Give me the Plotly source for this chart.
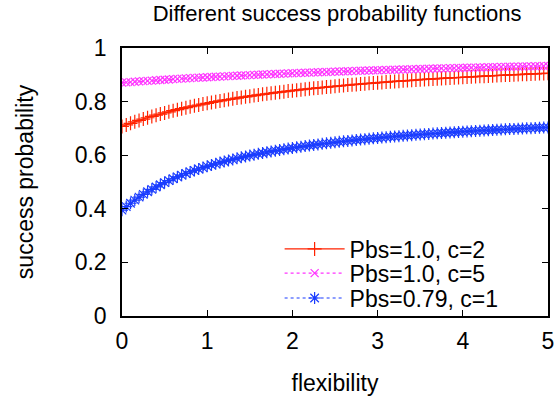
import plotly.graph_objects as go

flexibility = [0.00, 0.05, 0.10, 0.15, 0.20, 0.25, 0.30, 0.35, 0.40, 0.45,
               0.50, 0.55, 0.60, 0.65, 0.70, 0.75, 0.80, 0.85, 0.90, 0.95,
               1.00, 1.05, 1.10, 1.15, 1.20, 1.25, 1.30, 1.35, 1.40, 1.45,
               1.50, 1.55, 1.60, 1.65, 1.70, 1.75, 1.80, 1.85, 1.90, 1.95,
               2.00, 2.05, 2.10, 2.15, 2.20, 2.25, 2.30, 2.35, 2.40, 2.45,
               2.50, 2.55, 2.60, 2.65, 2.70, 2.75, 2.80, 2.85, 2.90, 2.95,
               3.00, 3.05, 3.10, 3.15, 3.20, 3.25, 3.30, 3.35, 3.40, 3.45,
               3.50, 3.55, 3.60, 3.65, 3.70, 3.75, 3.80, 3.85, 3.90, 3.95,
               4.00, 4.05, 4.10, 4.15, 4.20, 4.25, 4.30, 4.35, 4.40, 4.45,
               4.50, 4.55, 4.60, 4.65, 4.70, 4.75, 4.80, 4.85, 4.90, 4.95,
               5.00]

p_c2 = [0.7071, 0.7131, 0.7189, 0.7244, 0.7297, 0.7349, 0.7398, 0.7446, 0.7492, 0.7536,
        0.7579, 0.7620, 0.7660, 0.7698, 0.7736, 0.7772, 0.7807, 0.7841, 0.7874, 0.7906,
        0.7937, 0.7967, 0.7996, 0.8025, 0.8052, 0.8079, 0.8105, 0.8131, 0.8156, 0.8180,
        0.8203, 0.8226, 0.8249, 0.8270, 0.8292, 0.8312, 0.8333, 0.8352, 0.8372, 0.8391,
        0.8409, 0.8427, 0.8445, 0.8462, 0.8479, 0.8495, 0.8511, 0.8527, 0.8542, 0.8558,
        0.8572, 0.8587, 0.8601, 0.8615, 0.8629, 0.8642, 0.8655, 0.8668, 0.8681, 0.8693,
        0.8706, 0.8717, 0.8729, 0.8741, 0.8752, 0.8763, 0.8774, 0.8785, 0.8795, 0.8806,
        0.8816, 0.8826, 0.8836, 0.8845, 0.8855, 0.8864, 0.8874, 0.8883, 0.8892, 0.8900,
        0.8909, 0.8918, 0.8926, 0.8934, 0.8942, 0.8950, 0.8958, 0.8966, 0.8974, 0.8981,
        0.8988, 0.8996, 0.9003, 0.9010, 0.9017, 0.9024, 0.9031, 0.9038, 0.9044, 0.9051,
        0.9057]

p_c5 = [0.8706, 0.8717, 0.8729, 0.8741, 0.8752, 0.8763, 0.8774, 0.8785, 0.8795, 0.8806,
        0.8816, 0.8826, 0.8836, 0.8845, 0.8855, 0.8864, 0.8874, 0.8883, 0.8892, 0.8900,
        0.8909, 0.8918, 0.8926, 0.8934, 0.8942, 0.8950, 0.8958, 0.8966, 0.8974, 0.8981,
        0.8988, 0.8996, 0.9003, 0.9010, 0.9017, 0.9024, 0.9031, 0.9038, 0.9044, 0.9051,
        0.9057, 0.9064, 0.9070, 0.9076, 0.9082, 0.9088, 0.9094, 0.9100, 0.9106, 0.9112,
        0.9117, 0.9123, 0.9128, 0.9134, 0.9139, 0.9144, 0.9150, 0.9155, 0.9160, 0.9165,
        0.9170, 0.9175, 0.9180, 0.9185, 0.9189, 0.9194, 0.9199, 0.9203, 0.9208, 0.9212,
        0.9217, 0.9221, 0.9226, 0.9230, 0.9234, 0.9238, 0.9242, 0.9247, 0.9251, 0.9255,
        0.9259, 0.9263, 0.9267, 0.9270, 0.9274, 0.9278, 0.9282, 0.9286, 0.9289, 0.9293,
        0.9296, 0.9300, 0.9303, 0.9307, 0.9310, 0.9314, 0.9317, 0.9320, 0.9324, 0.9327,
        0.9330]

p_079_c1 = [0.3950, 0.4083, 0.4207, 0.4324, 0.4433, 0.4537, 0.4635, 0.4727, 0.4815, 0.4898,
            0.4977, 0.5051, 0.5122, 0.5190, 0.5255, 0.5317, 0.5375, 0.5431, 0.5485, 0.5537,
            0.5586, 0.5633, 0.5679, 0.5723, 0.5765, 0.5806, 0.5844, 0.5882, 0.5919, 0.5953,
            0.5987, 0.6020, 0.6051, 0.6081, 0.6111, 0.6140, 0.6168, 0.6194, 0.6220, 0.6246,
            0.6270, 0.6294, 0.6317, 0.6340, 0.6361, 0.6382, 0.6403, 0.6423, 0.6443, 0.6462,
            0.6480, 0.6499, 0.6517, 0.6533, 0.6551, 0.6566, 0.6583, 0.6598, 0.6614, 0.6629,
            0.6643, 0.6657, 0.6672, 0.6685, 0.6698, 0.6711, 0.6724, 0.6736, 0.6748, 0.6761,
            0.6772, 0.6784, 0.6795, 0.6806, 0.6817, 0.6827, 0.6837, 0.6848, 0.6858, 0.6867,
            0.6878, 0.6886, 0.6896, 0.6905, 0.6914, 0.6923, 0.6931, 0.6940, 0.6948, 0.6957,
            0.6965, 0.6973, 0.6980, 0.6988, 0.6995, 0.7003, 0.7010, 0.7018, 0.7025, 0.7031,
            0.7038]

series_names = ["Pbs=1.0, c=2", "Pbs=1.0, c=5", "Pbs=0.79, c=1"]
x_ticks = [0, 1, 2, 3, 4, 5]
y_ticks = [0, 0.2, 0.4, 0.6, 0.8, 1]
y_tick_labels = ["0", "0.2", "0.4", "0.6", "0.8", "1"]

FONT = "Liberation Sans, Arial, Helvetica, sans-serif"
FS = 23

fig = go.Figure()
fig.add_trace(go.Scatter(
    x=flexibility, y=p_c2, name=series_names[0], mode="lines+markers",
    legend="legend",
    line=dict(color="#ff2200", width=1.2),
    marker=dict(symbol="cross-thin-open", size=10, color="#ff2200",
                line=dict(width=1.2, color="#ff2200")),
))
fig.add_trace(go.Scatter(
    x=flexibility, y=p_c5, name=series_names[1], mode="lines+markers",
    legend="legend2",
    line=dict(color="#ff33ff", width=1.2, dash="dot"),
    marker=dict(symbol="x-thin-open", size=8, color="#ff33ff",
                line=dict(width=1.2, color="#ff33ff")),
))
fig.add_trace(go.Scatter(
    x=flexibility, y=p_079_c1, name=series_names[2], mode="lines+markers",
    legend="legend3",
    line=dict(color="#1a3cff", width=1.2, dash="dot"),
    marker=dict(symbol="asterisk-open", size=10, color="#1a3cff",
                line=dict(width=1.2, color="#1a3cff")),
))

legend_style = dict(x=0.37, xanchor="left", yanchor="middle",
                    bgcolor="rgba(0,0,0,0)", borderwidth=0,
                    font=dict(family=FONT, size=FS), itemwidth=60)

fig.update_layout(
    width=559, height=396,
    margin=dict(l=122, r=11, t=48, b=80),
    paper_bgcolor="white", plot_bgcolor="white",
    font=dict(family=FONT, size=FS, color="black"),
    title=dict(text="Different success probability functions",
               x=0.603, xanchor="center", y=0.987, yanchor="top",
               font=dict(family=FONT, size=22, color="black")),
    showlegend=True,
    legend=dict(y=0.25, **legend_style),
    legend2=dict(y=0.16, **legend_style),
    legend3=dict(y=0.067, **legend_style),
    xaxis=dict(range=[0, 5], tickmode="array", tickvals=x_ticks,
               ticktext=[str(v) for v in x_ticks], automargin=False,
               showgrid=False, zeroline=False, showline=True, linecolor="black",
               linewidth=1.5, mirror="ticks", ticks="inside", ticklen=6,
               tickcolor="black", tickfont=dict(size=FS), ticklabelstandoff=4,
               title=dict(text="flexibility", font=dict(size=FS), standoff=23)),
    yaxis=dict(range=[0, 1], tickmode="array", tickvals=y_ticks,
               ticktext=y_tick_labels, automargin=False,
               showgrid=False, zeroline=False, showline=True, linecolor="black",
               linewidth=1.5, mirror="ticks", ticks="inside", ticklen=6,
               tickcolor="black", tickfont=dict(size=FS), ticklabelstandoff=9,
               title=dict(text="success probability", font=dict(size=FS), standoff=35)),
)

fig.write_html("out.html", config={"displayModeBar": False},
               post_script="document.body.style.margin='0';")
